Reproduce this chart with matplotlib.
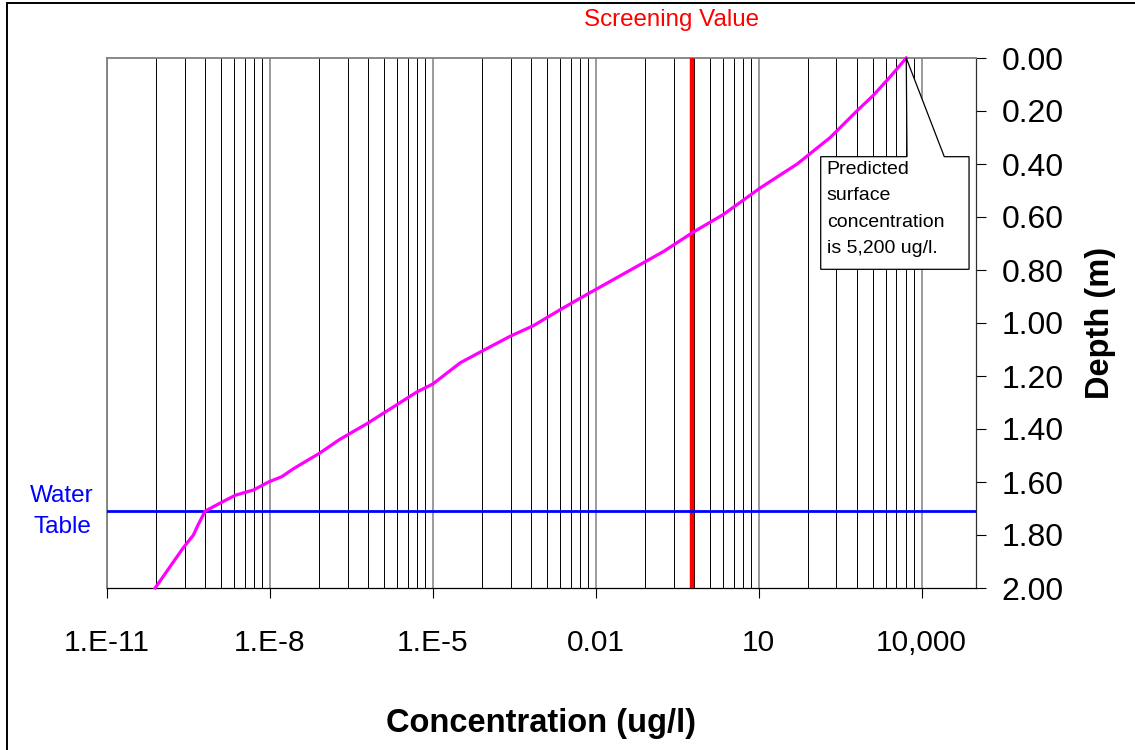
import numpy as np
import matplotlib
matplotlib.use("Agg")
import matplotlib.pyplot as plt
from matplotlib.patches import Polygon, Rectangle
from matplotlib.ticker import FixedLocator, FixedFormatter
import matplotlib.transforms as mtransforms

plt.rcParams['font.family'] = ['Liberation Sans', 'DejaVu Sans']

# modelled concentration profile (ug/l) vs depth below surface (m)
depth = [0.00, 0.07, 0.14, 0.20, 0.30, 0.40, 0.49, 0.59, 0.66, 0.73,
         0.91, 0.95, 1.01, 1.05, 1.07, 1.11, 1.15, 1.23, 1.26, 1.38,
         1.44, 1.49, 1.55, 1.58, 1.60, 1.63, 1.65, 1.68, 1.71, 1.76,
         1.80, 1.85, 2.00]
conc = [5200, 2650, 1300, 640, 207, 51, 10.7, 2.25, 0.59, 0.177,
        4.8e-3, 2.2e-3, 7.1e-4, 2.65e-4, 1.73e-4, 7.4e-5, 3.2e-5, 1.0e-5, 5.1e-6, 6.1e-7,
        1.9e-7, 8.4e-8, 2.7e-8, 1.65e-8, 9.4e-9, 5.0e-9, 2.3e-9, 1.2e-9, 6.4e-10, 4.8e-10,
        3.9e-10, 2.5e-10, 7.7e-11]

screening_value = 0.6      # ug/l
water_table = 1.71         # m
surface_conc = 5200        # ug/l

x_ticks = [1e-11, 1e-8, 1e-5, 1e-2, 1e1, 1e4]
x_ticklabels = ['1.E-11', '1.E-8', '1.E-5', '0.01', '10', '10,000']
y_ticks = [0.0, 0.2, 0.4, 0.6, 0.8, 1.0, 1.2, 1.4, 1.6, 1.8, 2.0]

fig = plt.figure(figsize=(11.35, 7.5), dpi=100)
ax = fig.add_axes([107 / 1135, 1 - 588 / 750, 869 / 1135, 530 / 750])

ax.set_xscale('log')
ax.set_xlim(1e-11, 1e5)
ax.set_ylim(2.0, 0.0)

# excel-style minor grid: k^3 steps inside each 3-decade interval
minor = [m * k ** 3 for m in x_ticks[:-1] for k in range(2, 10)]
ax.xaxis.set_major_locator(FixedLocator(x_ticks))
ax.xaxis.set_major_formatter(FixedFormatter(x_ticklabels))
ax.xaxis.set_minor_locator(FixedLocator(minor))
ax.xaxis.set_minor_formatter(FixedFormatter([''] * len(minor)))
ax.grid(True, which='major', axis='x', color='#808080', lw=1.1)
ax.grid(True, which='minor', axis='x', color='black', lw=0.7)
ax.set_axisbelow(True)

ax.tick_params(axis='x', which='major', direction='out', length=7.5, width=0.8,
               color='black', labelsize=21.5, pad=22)
ax.tick_params(axis='x', which='minor', length=0)

ax.yaxis.tick_right()
ax.yaxis.set_label_position('right')
ax.set_yticks(y_ticks)
ax.set_yticklabels([f'{v:.2f}' for v in y_ticks])
ax.tick_params(axis='y', direction='out', length=7.5, width=0.8, color='black',
               labelsize=23, pad=11)

for side in ['top', 'left']:
    ax.spines[side].set_color('#808080')
    ax.spines[side].set_linewidth(1.3)
ax.spines['right'].set_color('#303030')
ax.spines['right'].set_linewidth(0.9)
ax.spines['bottom'].set_color('black')
ax.spines['bottom'].set_linewidth(0.9)

# reference lines
ax.axvline(screening_value, color='#FF0000', lw=3.2, zorder=3)
ax.axhline(water_table, color='#0000FF', lw=2.0, zorder=3)
ax.plot(conc, depth, color='#FF00FF', lw=2.3, zorder=4, clip_on=False)

ax.set_xlabel('Concentration (ug/l)', fontsize=23.5, fontweight='bold')
ax.xaxis.set_label_coords(0.5, -0.256)
ax.xaxis.label.set_va('center')
ax.set_ylabel('Depth (m)', fontsize=23.5, fontweight='bold', rotation=90)
ax.yaxis.set_label_coords(1.1427, 0.5)
ax.yaxis.label.set_va('center')

fig.text(671.5 / 1135, 1 - 20 / 750, 'Screening Value', color='#FF0000',
         fontsize=17.4, ha='center', va='center')
blend = mtransforms.blended_transform_factory(fig.transFigure, ax.transData)
ax.text(62 / 1135, water_table, 'Water\nTable', color='#0000FF', fontsize=17.5,
        ha='center', va='center', multialignment='center', linespacing=1.52,
        transform=blend, clip_on=False)

# callout box pointing at the surface value
tip = (ax.transScale + ax.transLimits).transform((surface_conc, 0.0))
bx0, bx1, by0, by1 = 0.8213, 0.992, 0.6013, 0.8138
gx0, gx1 = 0.9206, 0.9635
callout = Polygon([(gx0, by1), tuple(tip), (gx1, by1), (bx1, by1), (bx1, by0),
                   (bx0, by0), (bx0, by1)], closed=True, facecolor='white',
                  edgecolor='black', lw=0.9, transform=ax.transAxes,
                  clip_on=False, zorder=6)
ax.add_patch(callout)
ax.text(0.8282, 0.8065, 'Predicted\nsurface\nconcentration\nis 5,200 ug/l.',
        transform=ax.transAxes, fontsize=14, ha='left', va='top',
        linespacing=1.73, zorder=7)

# outer chart border
fig.patches.append(Rectangle((6.5 / 1135, -0.05), 1.2, 1.05 - 3.5 / 750,
                             transform=fig.transFigure, fill=False,
                             edgecolor='black', lw=1.4))

fig.savefig('out.png', dpi=100)
